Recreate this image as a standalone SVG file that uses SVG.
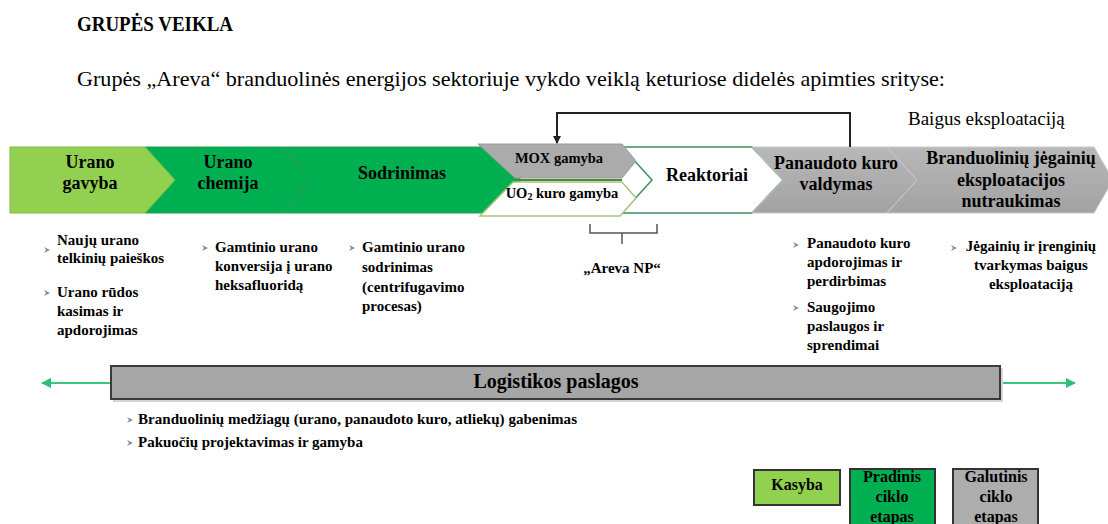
<svg xmlns="http://www.w3.org/2000/svg" width="1108" height="524" viewBox="0 0 1108 524">
<style>
.gray{fill:url(#gg);stroke:#c9c9c9;stroke-width:1}
.lbl{font-weight:bold;font-size:18px;text-anchor:middle}
.blt{font-weight:bold;font-size:15px}
.bc{font-weight:bold;font-size:15px;text-anchor:middle}
.leg{font-weight:bold;font-size:16px;text-anchor:middle}
.dg{fill:#00B050;stroke:#2f9a5a;stroke-width:1}
.lg{fill:#92D050;stroke:#7fb84a;stroke-width:1}
.conn{fill:none;stroke:#222;stroke-width:2}
.garr{fill:none;stroke:#3cc47c;stroke-width:2}
</style>
<defs>
<linearGradient id="gg" x1="0" y1="0" x2="0" y2="1"><stop offset="0" stop-color="#B8B8B8"/><stop offset="1" stop-color="#A2A2A2"/></linearGradient>
<marker id="ah" markerWidth="8" markerHeight="8" refX="7" refY="4" orient="auto" markerUnits="userSpaceOnUse"><path d="M0,0 L8,4 L0,8 Z" fill="#222"/></marker>
<marker id="gah" markerWidth="10" markerHeight="10" refX="9" refY="5" orient="auto" markerUnits="userSpaceOnUse"><path d="M0,0 L10,5 L0,10 Z" fill="#2fbf73"/></marker>
<path id="bul" d="M0,-3 L6,0 L0,3 L2,0 Z" fill="#8a8a8a"/>
</defs>

<g id="title">
<text font-family="Liberation Serif" x="77" y="31" font-size="20" font-weight="bold" textLength="156" lengthAdjust="spacingAndGlyphs">GRUPĖS VEIKLA</text>
<text font-family="Liberation Serif" x="77" y="86" font-size="21" textLength="868" lengthAdjust="spacingAndGlyphs">Grupės „Areva“ branduolinės energijos sektoriuje vykdo veiklą keturiose didelės apimties srityse:</text>
<text font-family="Liberation Serif" x="908" y="125" font-size="19">Baigus eksploataciją</text>
</g>

<g id="sodrinimas">
<polygon class="dg" points="280,147 520,147 520,213 280,213 312,180"/>
<text font-family="Liberation Serif" class="lbl" x="402" y="179">Sodrinimas</text>
</g>
<g id="urano-chemija">
<polygon class="dg" points="145,147 280,147 312,180 280,213 145,213 175,180"/>
<text font-family="Liberation Serif" class="lbl" x="228" y="168">Urano</text>
<text font-family="Liberation Serif" class="lbl" x="228" y="189">chemija</text>
</g>
<g id="urano-gavyba">
<polygon class="lg" points="10,147 145,147 175,180 145,213 10,213"/>
<text font-family="Liberation Serif" class="lbl" x="90" y="168">Urano</text>
<text font-family="Liberation Serif" class="lbl" x="90" y="189">gavyba</text>
</g>

<g id="reaktoriai">
<polygon points="622,147 752,147 783,180 752,213 622,213 652,180" fill="#fff" stroke="#3d8f5f" stroke-width="1.5"/>
<text font-family="Liberation Serif" class="lbl" x="707" y="181">Reaktoriai</text>
</g>
<g id="mox-gamyba">
<polygon points="478,144 622,144 636,161 622,178 515,178" fill="#ABABAB" stroke="#9a9a9a" stroke-width="1"/>
<text font-family="Liberation Serif" x="559" y="163" font-size="14.5" font-weight="bold" text-anchor="middle">MOX gamyba</text>
</g>
<g id="uo2-kuro-gamyba">
<line x1="515" y1="180" x2="622" y2="180" stroke="#4a8a3a" stroke-width="2"/>
<polygon points="513,182 622,182 636,198 620,216 480,216" fill="#fff" stroke="#a9c47f" stroke-width="1.5"/>
<text font-family="Liberation Serif" x="562" y="198" font-size="14.5" font-weight="bold" text-anchor="middle">UO<tspan font-size="10" dy="2">2</tspan><tspan dy="-2"> kuro gamyba</tspan></text>
</g>
<g id="panaudoto-kuro-valdymas">
<polygon class="gray" points="752,147 887,147 917,180 887,213 752,213 783,180"/>
<text font-family="Liberation Serif" class="lbl" x="836" y="169">Panaudoto kuro</text>
<text font-family="Liberation Serif" class="lbl" x="836" y="190">valdymas</text>
</g>
<g id="branduoliniu-jegainiu">
<polygon class="gray" points="887,147 1094,147 1113,180 1094,213 887,213 917,180"/>
<text font-family="Liberation Serif" class="lbl" x="1011" y="164">Branduolinių jėgainių</text>
<text font-family="Liberation Serif" class="lbl" x="1011" y="186">eksploatacijos</text>
<text font-family="Liberation Serif" class="lbl" x="1011" y="207">nutraukimas</text>
</g>

<g id="connectors">
<path class="conn" d="M850,147 V113 H557 V143" marker-end="url(#ah)"/>
<path d="M590,224 V233 H657 V224 M622,233 V244" fill="none" stroke="#555" stroke-width="1.5"/>
<path class="garr" d="M111,383 H42" marker-end="url(#gah)"/>
<path class="garr" d="M1002,383 H1075" marker-end="url(#gah)"/>
</g>

<g id="areva-np">
<text font-family="Liberation Serif" x="622" y="273" font-size="15" font-weight="bold" text-anchor="middle">„Areva NP“</text>
</g>

<g id="bullets-gavyba">
<use href="#bul" x="44" y="250"/>
<use href="#bul" x="44" y="293"/>
<text font-family="Liberation Serif" class="blt" x="57" y="245">Naujų urano</text>
<text font-family="Liberation Serif" class="blt" x="57" y="263">telkinių paieškos</text>
<text font-family="Liberation Serif" class="blt" x="57" y="297">Urano rūdos</text>
<text font-family="Liberation Serif" class="blt" x="57" y="316">kasimas ir</text>
<text font-family="Liberation Serif" class="blt" x="57" y="335">apdorojimas</text>
</g>
<g id="bullets-chemija">
<use href="#bul" x="202" y="248"/>
<text font-family="Liberation Serif" class="blt" x="215" y="252">Gamtinio urano</text>
<text font-family="Liberation Serif" class="blt" x="215" y="271">konversija į urano</text>
<text font-family="Liberation Serif" class="blt" x="215" y="290">heksafluoridą</text>
</g>
<g id="bullets-sodrinimas">
<use href="#bul" x="349" y="248"/>
<text font-family="Liberation Serif" class="blt" x="362" y="252">Gamtinio urano</text>
<text font-family="Liberation Serif" class="blt" x="362" y="272">sodrinimas</text>
<text font-family="Liberation Serif" class="blt" x="362" y="292">(centrifugavimo</text>
<text font-family="Liberation Serif" class="blt" x="362" y="311">procesas)</text>
</g>
<g id="bullets-panaudoto">
<use href="#bul" x="793" y="245"/>
<use href="#bul" x="793" y="308"/>
<text font-family="Liberation Serif" class="blt" x="807" y="248">Panaudoto kuro</text>
<text font-family="Liberation Serif" class="blt" x="807" y="267">apdorojimas ir</text>
<text font-family="Liberation Serif" class="blt" x="807" y="286">perdirbimas</text>
<text font-family="Liberation Serif" class="blt" x="807" y="312">Saugojimo</text>
<text font-family="Liberation Serif" class="blt" x="807" y="331">paslaugos ir</text>
<text font-family="Liberation Serif" class="blt" x="807" y="350">sprendimai</text>
</g>
<g id="bullets-eksploatacija">
<use href="#bul" x="951" y="248"/>
<text font-family="Liberation Serif" class="bc" x="1031" y="251">Jėgainių ir įrenginių</text>
<text font-family="Liberation Serif" class="bc" x="1031" y="270">tvarkymas baigus</text>
<text font-family="Liberation Serif" class="bc" x="1031" y="289">eksploataciją</text>
</g>

<g id="logistikos-paslagos">
<rect x="113" y="368" width="890" height="34" fill="#d4d4d4"/>
<rect x="111" y="366" width="889" height="33" fill="#A6A6A6" stroke="#3a3a3a" stroke-width="2"/>
<text font-family="Liberation Serif" x="556" y="388" font-size="20" font-weight="bold" text-anchor="middle">Logistikos paslagos</text>
</g>
<g id="bullets-logistika">
<use href="#bul" x="127" y="420"/>
<use href="#bul" x="127" y="443"/>
<text font-family="Liberation Serif" class="blt" x="138" y="424" textLength="439" lengthAdjust="spacingAndGlyphs">Branduolinių medžiagų (urano, panaudoto kuro, atliekų) gabenimas</text>
<text font-family="Liberation Serif" class="blt" x="138" y="447">Pakuočių projektavimas ir gamyba</text>
</g>

<g id="legend-kasyba">
<rect x="754" y="470" width="86" height="35" fill="#92D050" stroke="#333" stroke-width="2"/>
<text font-family="Liberation Serif" class="leg" x="797" y="490">Kasyba</text>
</g>
<g id="legend-pradinis">
<rect x="850" y="469" width="85" height="65" fill="#00B050" stroke="#333" stroke-width="2"/>
<text font-family="Liberation Serif" class="leg" x="892" y="482">Pradinis</text>
<text font-family="Liberation Serif" class="leg" x="892" y="502">ciklo</text>
<text font-family="Liberation Serif" class="leg" x="892" y="522">etapas</text>
</g>
<g id="legend-galutinis">
<rect x="953" y="469" width="85" height="65" fill="#ADADAD" stroke="#333" stroke-width="2"/>
<text font-family="Liberation Serif" class="leg" x="996" y="482">Galutinis</text>
<text font-family="Liberation Serif" class="leg" x="996" y="502">ciklo</text>
<text font-family="Liberation Serif" class="leg" x="996" y="522">etapas</text>
</g>
</svg>
